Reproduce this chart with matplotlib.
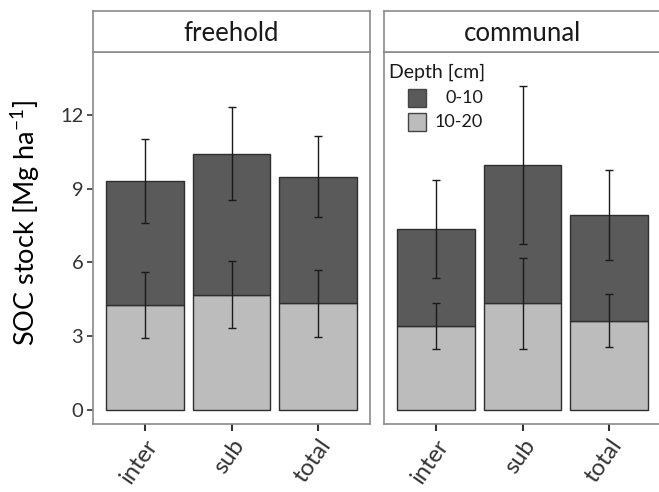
import numpy as np
import matplotlib.pyplot as plt
from matplotlib.patches import Rectangle

plt.rcParams['font.family'] = ['Lato', 'DejaVu Sans']
plt.rcParams['mathtext.default'] = 'regular'

# data
sites = ['inter', 'sub', 'total']
panels = ['freehold', 'communal']
depths = ['0-10', '10-20']

# 10-20 cm (bottom segment) and 0-10 cm (stacked on top)
free_sub = [4.27, 4.69, 4.34]
free_top = [5.03, 5.74, 5.15]
comm_sub = [3.42, 4.34, 3.63]
comm_top = [3.93, 5.63, 4.30]

# error bar half widths
free_sub_err = [1.35, 1.36, 1.37]
free_top_err = [1.71, 1.90, 1.65]
comm_sub_err = [0.94, 1.85, 1.07]
comm_top_err = [1.99, 3.20, 1.85]

data = {
    'freehold': (free_sub, free_top, free_sub_err, free_top_err),
    'communal': (comm_sub, comm_top, comm_sub_err, comm_top_err),
}

dark = '#5a5a5a'
light = '#bcbcbc'
edge = '#2e2e2e'
border = '#8a8a8a'

W, H = 659, 492
fig = plt.figure(figsize=(W / 100, H / 100), dpi=100)

def px_box(l, r, t, b):
    return [l / W, 1 - b / H, (r - l) / W, (b - t) / H]

ax1 = fig.add_axes(px_box(93, 370, 52, 424))
ax2 = fig.add_axes(px_box(384, 661, 52, 424), sharey=ax1)

x = np.arange(len(sites))
for ax, name in zip([ax1, ax2], panels):
    sub, top, sub_e, top_e = data[name]
    sub = np.array(sub)
    top = np.array(top)
    ax.bar(x, sub, width=0.9, color=light, edgecolor=edge, linewidth=1, zorder=2)
    ax.bar(x, top, width=0.9, bottom=sub, color=dark, edgecolor=edge, linewidth=1, zorder=2)
    ax.errorbar(x, sub, yerr=sub_e, fmt='none', ecolor='#1a1a1a', elinewidth=1,
                capsize=3.2, capthick=1, zorder=3)
    ax.errorbar(x, sub + top, yerr=top_e, fmt='none', ecolor='#1a1a1a', elinewidth=1,
                capsize=3.2, capthick=1, zorder=3)
    ax.set_xlim(-0.6, 2.6)
    ax.set_xticks(x)
    ax.set_xticklabels(sites, rotation=55, ha='right', rotation_mode='anchor',
                       fontsize=17, color='#333333')
    for s in ax.spines.values():
        s.set_color(border)
        s.set_linewidth(1.2)
    ax.tick_params(axis='x', length=5, width=1.5, color='#333333', pad=3)
    ax.tick_params(axis='y', length=4, width=1.2, color='#333333', labelsize=14.5,
                   labelcolor='#333333', pad=3)
    # facet strip
    strip = ax.inset_axes([0, 1, 1, 41 / 372])
    strip.set_xticks([])
    strip.set_yticks([])
    for s in strip.spines.values():
        s.set_color(border)
        s.set_linewidth(1.2)
    strip.text(0.5, 0.45, name, ha='center', va='center', fontsize=18.5, color='#1a1a1a')

ax1.set_ylim(-0.57, 14.56)
ax1.set_yticks([0, 3, 6, 9, 12])
ax1.set_ylabel('SOC stock [Mg ha$^{-1}$]', fontsize=19.5)
ax1.yaxis.set_label_coords(-0.185, 0.54)
ax2.tick_params(axis='y', left=False, labelleft=False)

# legend
ax2.text(0.018, 0.946, 'Depth [cm]', transform=ax2.transAxes, ha='left', va='center',
         fontsize=14, color='#1a1a1a')
for i, (lab, col) in enumerate(zip(depths, [dark, light])):
    y0 = 0.852 - i * 0.0645
    ax2.add_patch(Rectangle((0.0856, y0), 0.066, 0.0485, transform=ax2.transAxes,
                            facecolor=col, edgecolor='#444444', linewidth=1, zorder=4))
    ax2.text(0.357, y0 + 0.024, lab, transform=ax2.transAxes, ha='right', va='center',
             fontsize=13, color='#1a1a1a')

fig.savefig('out.png', dpi=100)
